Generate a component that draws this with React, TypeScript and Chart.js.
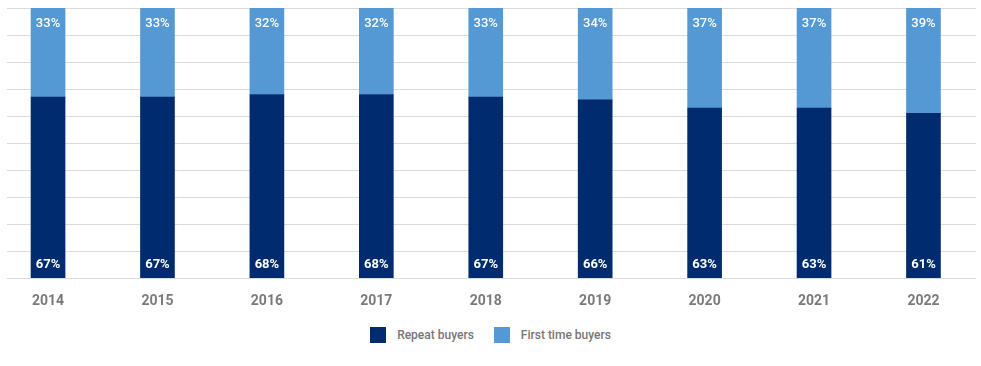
import React, { useEffect, useRef } from "react";
import { Chart, registerables } from "chart.js";

Chart.register(...registerables);

const categories = ["2014", "2015", "2016", "2017", "2018", "2019", "2020", "2021", "2022"];
const repeatBuyers = [67, 67, 68, 68, 67, 66, 63, 63, 61];
const firstTimeBuyers = [33, 33, 32, 32, 33, 34, 37, 37, 39];
const seriesLabels = ["Repeat buyers", "First time buyers"];
const seriesColors = ["#002C6F", "#5499D3"];

const FONT = "Roboto, 'Noto Sans', sans-serif";

const labelPlugin = {
  id: "barLabels",
  afterDatasetsDraw(chart: any) {
    const ctx = chart.ctx;
    ctx.save();
    ctx.textAlign = "center";
    ctx.textBaseline = "middle";
    ctx.fillStyle = "#ffffff";
    chart.data.datasets.forEach((ds: any, di: number) => {
      const meta = chart.getDatasetMeta(di);
      meta.data.forEach((bar: any, i: number) => {
        const v = ds.data[i].y;
        if (di === 0) {
          ctx.font = `bold 13px ${FONT}`;
          ctx.fillText(`${v}%`, bar.x, bar.base - 13);
        } else {
          ctx.font = `500 13px ${FONT}`;
          ctx.fillText(`${v}%`, bar.x, bar.y + 16);
        }
      });
    });
    ctx.restore();
  },
};

export default function App() {
  const ref = useRef<HTMLCanvasElement>(null);
  useEffect(() => {
    if (!ref.current) return;
    const chart = new Chart(ref.current, {
      type: "bar",
      data: {
        datasets: [
          {
            label: seriesLabels[0],
            data: repeatBuyers.map((v, i) => ({ x: i, y: v })),
            backgroundColor: seriesColors[0],
            barThickness: 34,
          },
          {
            label: seriesLabels[1],
            data: firstTimeBuyers.map((v, i) => ({ x: i, y: v })),
            backgroundColor: seriesColors[1],
            barThickness: 34,
          },
        ],
      },
      options: {
        animation: false,
        responsive: false,
        maintainAspectRatio: false,
        layout: { padding: { left: 7, right: 5, top: 8, bottom: 0 } },
        plugins: { legend: { display: false }, tooltip: { enabled: false } },
        scales: {
          x: {
            type: "linear",
            stacked: true,
            offset: false,
            min: -0.375,
            max: 8.48,
            afterBuildTicks: (scale: any) => {
              scale.ticks = categories.map((_, i) => ({ value: i }));
            },
            ticks: {
              autoSkip: false,
              maxRotation: 0,
              padding: 15,
              color: "#7a7a7a",
              font: { family: FONT, size: 14, weight: "bold" },
              callback: (v: any) => categories[v] ?? "",
            },
            grid: { display: false, drawTicks: false },
            border: { display: false },
          },
          y: {
            stacked: true,
            min: 0,
            max: 100,
            ticks: { display: false, stepSize: 10 },
            grid: { color: "#dadada", drawTicks: false, lineWidth: 1 },
            border: { display: false },
          },
        },
      },
      plugins: [labelPlugin],
    } as any);
    return () => chart.destroy();
  }, []);

  return (
    <div style={{ position: "fixed", left: 0, top: 0, width: 981, height: 366, background: "#fff" }}>
      <canvas ref={ref} width={981} height={325} style={{ display: "block" }} />
      <div
        style={{
          position: "absolute",
          top: 327,
          left: 0,
          width: 981,
          display: "flex",
          justifyContent: "center",
          alignItems: "center",
          fontFamily: FONT,
          fontSize: 12,
          fontWeight: 500,
          color: "#767676",
        }}
      >
        {seriesLabels.map((label, i) => (
          <div key={label} style={{ display: "flex", alignItems: "center", marginLeft: i === 0 ? 0 : 20 }}>
            <span style={{ display: "inline-block", width: 16, height: 16, background: seriesColors[i], marginRight: 11 }} />
            <span style={{ lineHeight: "16px" }}>{label}</span>
          </div>
        ))}
      </div>
    </div>
  );
}
